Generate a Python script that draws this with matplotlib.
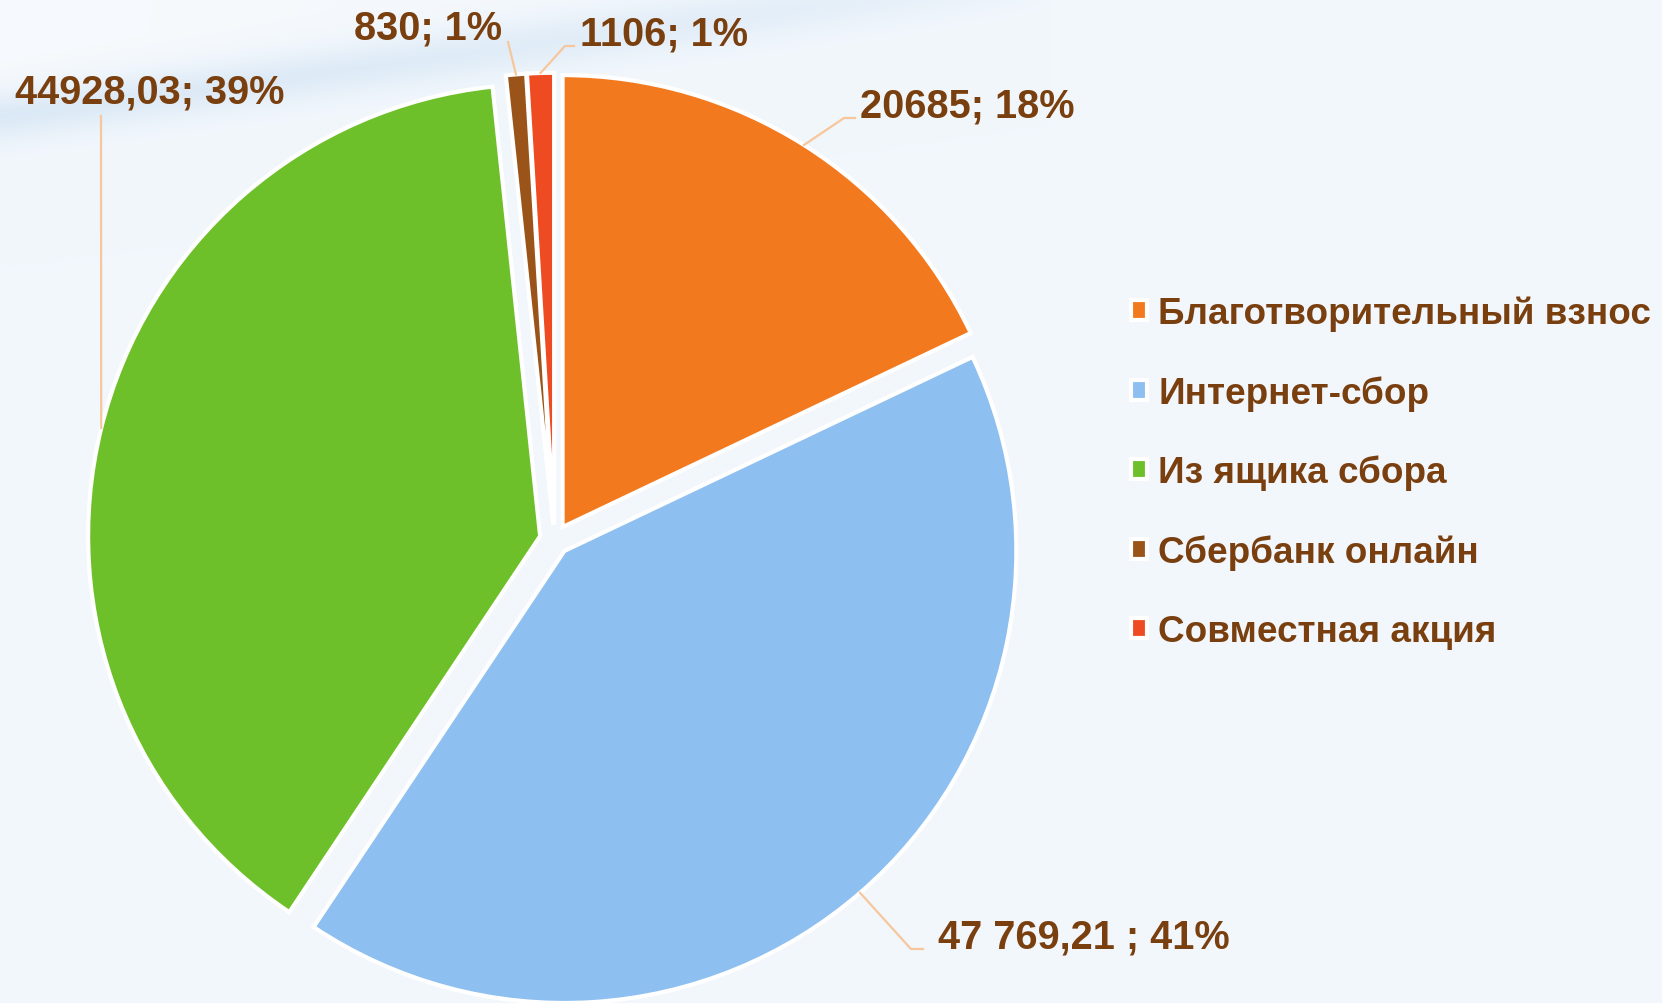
import matplotlib.pyplot as plt
import numpy as np

plt.rcParams['font.family'] = ['Liberation Sans', 'DejaVu Sans']

# Data
categories = ['Благотворительный взнос', 'Интернет-сбор', 'Из ящика сбора',
              'Сбербанк онлайн', 'Совместная акция']
values = [20685, 47769.21, 44928.03, 830, 1106]
value_labels = ['20685', '47 769,21 ', '44928,03', '830', '1106']
colors = ['#F3791F', '#8DBFF0', '#6EC02A', '#9A5419', '#EE4B22']

text_color = '#7A3F0F'
line_color = '#F6C79C'
bg_color = '#F2F7FC'

# layout in pixels (figure is 1662x1004)
W, H = 1662, 1004
R = 452.0              # pie radius in px
cx, cy = 554.6, 540.7  # pie centre in px (from top)
explode = 0.033

# text left/centre positions and elbow points (px from top-left)
text_pos = [(860, 106), (938, 938), (15, 93), (354, 29), (580, 35)]
elbows = [[(844, 119), (855, 119)],
          [(911, 950), (923, 950)],
          [(101, 117)],
          [(508, 43)],
          [(565, 47), (574, 47)]]


def px2data(p):
    return ((p[0] - cx) / R, (cy - p[1]) / R)


fig = plt.figure(figsize=(16.62, 10.04), dpi=100)
fig.patch.set_facecolor(bg_color)

# soft background swoosh at the top
bg = fig.add_axes([0, 0, 1, 1], zorder=0)
bg.axis('off')
yy, xx = np.mgrid[0:H:2, 0:W:2].astype(float)
base = np.array([0xF2, 0xF7, 0xFC]) / 255
band = np.array([0xD6, 0xE6, 0xF5]) / 255
white = np.array([0xFA, 0xFC, 0xFE]) / 255
# distance to a line from (0,115) to (900,-5)
d = (yy - (115 - xx * 120 / 900)) / np.sqrt(1 + (120 / 900) ** 2)
fade = np.clip(1 - xx / 1050, 0, 1) ** 0.35
a_band = np.exp(-(d / 26) ** 2) * fade * 0.8
a_white = np.clip(-d / 60, 0, 1) * np.clip(1 - xx / 900, 0, 1) * 0.6
img = base * (1 - a_band[..., None]) + band * a_band[..., None]
img = img * (1 - a_white[..., None]) + white * a_white[..., None]
bg.imshow(img, extent=(0, W, H, 0), aspect='auto', interpolation='bilinear')
bg.set_xlim(0, W)
bg.set_ylim(H, 0)

ax = fig.add_axes([0, 0, 1, 1], zorder=1)
ax.patch.set_alpha(0)

wedges, _ = ax.pie(values, colors=colors, startangle=90, counterclock=False,
                   explode=[explode] * len(values), radius=1.0, center=(0, 0),
                   wedgeprops=dict(edgecolor='white', linewidth=3),
                   frame=True)
ax.set_xlim(-cx / R, (W - cx) / R)
ax.set_ylim(-(H - cy) / R, cy / R)
ax.axis('off')

total = sum(values)
for i, w in enumerate(wedges):
    mid = np.deg2rad((w.theta1 + w.theta2) / 2)
    anchor = ((1 + explode) * np.cos(mid), (1 + explode) * np.sin(mid))
    pts = [anchor] + [px2data(p) for p in elbows[i]]
    xs, ys = zip(*pts)
    ax.plot(xs, ys, color=line_color, lw=1.6, zorder=3)
    pct = round(values[i] / total * 100)
    tx, ty = px2data(text_pos[i])
    ax.text(tx, ty, f'{value_labels[i]}; {pct}%', color=text_color,
            fontsize=28.6, fontweight='bold', ha='left', va='center')

leg = ax.legend(wedges, categories, loc='upper left',
                bbox_to_anchor=(1116 / W, 1 - 282 / H), frameon=False,
                fontsize=26.6, handlelength=0.45, handleheight=0.45,
                handletextpad=0.3, labelspacing=1.19, borderaxespad=0)
for t in leg.get_texts():
    t.set_color(text_color)
    t.set_fontweight('bold')

fig.savefig('out.png', dpi=100, facecolor=fig.get_facecolor())
